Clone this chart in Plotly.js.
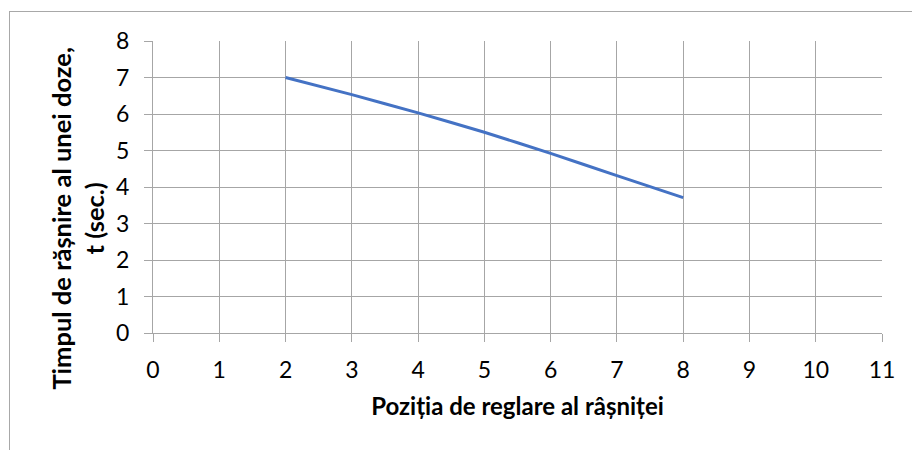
<!DOCTYPE html>
<html>
<head>
<meta charset="utf-8">
<script src="https://cdn.plot.ly/plotly-3.0.1.min.js"></script>
<style>
  html, body { margin: 0; padding: 0; background: #fff; }
  #wrap { position: relative; width: 912px; height: 450px; }
  #chart { width: 912px; height: 450px; }
  #frame { position: absolute; left: 9px; top: 11px; right: 0; bottom: 0;
           border-left: 1px solid #a8a8a8; border-top: 1px solid #a8a8a8;
           pointer-events: none; }
</style>
</head>
<body>
<div id="wrap">
  <div id="chart"></div>
  <div id="frame"></div>
</div>
<script>
const positions = [2, 3, 4, 5, 6, 7, 8];
const grindTime = [7.0, 6.53, 6.03, 5.5, 4.92, 4.31, 3.71];
const xTicks = [0, 1, 2, 3, 4, 5, 6, 7, 8, 9, 10, 11];
const yTicks = [0, 1, 2, 3, 4, 5, 6, 7, 8];
const yTitle = '<b>Timpul de rășnire al unei doze,<br>t (sec.)</b>';
const xTitle = '<b>Poziția de reglare al râșniței</b>';

const fontFam = 'Lato, "Open Sans", sans-serif';

Plotly.newPlot('chart', [{
  x: positions,
  y: grindTime,
  type: 'scatter',
  mode: 'lines',
  line: { color: '#4472C4', width: 3, shape: 'spline', smoothing: 0.6 },
  hoverinfo: 'x+y'
}], {
  width: 912,
  height: 450,
  margin: { l: 153, r: 30, t: 41, b: 117 },
  paper_bgcolor: '#ffffff',
  plot_bgcolor: '#ffffff',
  showlegend: false,
  font: { family: fontFam, color: '#000000', size: 23 },
  xaxis: {
    range: [0, 11],
    tickvals: xTicks,
    ticktext: xTicks.map(String),
    showgrid: true,
    gridcolor: '#a6a6a6',
    gridwidth: 1,
    zeroline: false,
    showline: true,
    linecolor: '#a6a6a6',
    linewidth: 1,
    ticks: 'outside',
    ticklen: 8,
    tickcolor: '#a6a6a6',
    ticklabelstandoff: 8,
    tickfont: { family: fontFam, size: 23, color: '#000' },
    fixedrange: true,
    title: { text: xTitle, font: { family: fontFam, size: 24, color: '#000' }, standoff: 16 }
  },
  yaxis: {
    range: [0, 8],
    tickvals: yTicks,
    ticktext: yTicks.map(String),
    showgrid: true,
    gridcolor: '#a6a6a6',
    gridwidth: 1,
    zeroline: false,
    showline: true,
    linecolor: '#a6a6a6',
    linewidth: 1,
    ticks: 'outside',
    ticklen: 8,
    tickcolor: '#a6a6a6',
    ticklabelstandoff: 10,
    tickfont: { family: fontFam, size: 23, color: '#000' },
    fixedrange: true
  },
  annotations: [{
    text: yTitle,
    xref: 'paper', yref: 'paper',
    x: -0.1034, y: 0.394,
    xanchor: 'center', yanchor: 'middle',
    textangle: -90,
    showarrow: false,
    font: { family: fontFam, size: 25.5, color: '#000' }
  }]
}, { displayModeBar: false, staticPlot: true });
</script>
</body>
</html>
